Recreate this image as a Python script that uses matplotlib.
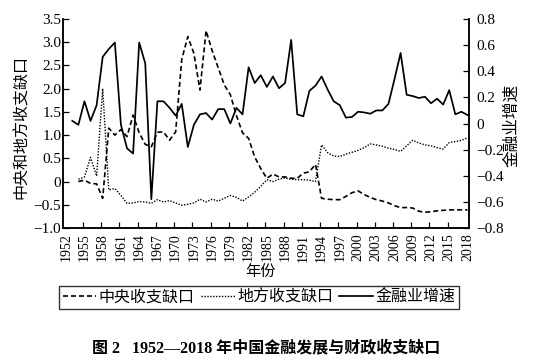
import numpy as np
import matplotlib
matplotlib.use("Agg")
import matplotlib.pyplot as plt
from matplotlib.lines import Line2D
from matplotlib.ticker import FuncFormatter

plt.rcParams['font.family'] = ['Liberation Serif', 'Noto Sans CJK SC', 'DejaVu Sans']
plt.rcParams['axes.unicode_minus'] = True

# --- data ---
years_fin = list(range(1953, 2019))
fin_growth = [0.02, -0.01, 0.17, 0.02, 0.14, 0.51, 0.57, 0.62, -0.01, -0.19,
              -0.23, 0.62, 0.46, -0.58, 0.17, 0.17, 0.12, 0.06, 0.15, -0.18,
              -0.01, 0.07, 0.08, 0.03, 0.11, 0.11, 0.00, 0.12, 0.07, 0.43,
              0.31, 0.37, 0.28, 0.36, 0.27, 0.31, 0.64, 0.07, 0.055, 0.25,
              0.29, 0.36, 0.26, 0.17, 0.14, 0.045, 0.05, 0.09, 0.085, 0.075,
              0.10, 0.10, 0.15, 0.34, 0.54, 0.22, 0.21, 0.195, 0.205, 0.155,
              0.19, 0.145, 0.255, 0.07, 0.09, 0.065]

years_gap = list(range(1954, 2019))
central_gap = [0.0, 0.03, -0.04, -0.05, -0.36, 1.15, 1.0, 1.12, 0.97, 1.43,
               1.05, 0.8, 0.75, 1.06, 1.07, 0.89, 1.07, 2.63, 3.12, 2.76,
               1.97, 3.25, 2.82, 2.45, 2.08, 1.87, 1.42, 1.05, 0.93, 0.53,
               0.28, 0.07, 0.16, 0.10, 0.10, 0.07, 0.07, 0.18, 0.21, 0.37,
               -0.36, -0.38, -0.39, -0.39, -0.32, -0.24, -0.20, -0.28, -0.34, -0.39,
               -0.42, -0.46, -0.52, -0.56, -0.56, -0.57, -0.64, -0.66, -0.65, -0.63,
               -0.62, -0.61, -0.61, -0.61, -0.61]
local_gap = [0.05, 0.10, 0.52, 0.12, 2.0, -0.18, -0.15, -0.30, -0.47, -0.46,
             -0.43, -0.44, -0.47, -0.39, -0.44, -0.41, -0.46, -0.51, -0.49, -0.46,
             -0.38, -0.44, -0.38, -0.42, -0.36, -0.30, -0.34, -0.42, -0.33, -0.23,
             -0.10, 0.04, 0.0, 0.05, 0.08, 0.05, 0.04, 0.04, 0.03, 0.0,
             0.79, 0.62, 0.55, 0.54, 0.59, 0.63, 0.67, 0.73, 0.81, 0.79,
             0.76, 0.72, 0.69, 0.65, 0.77, 0.89, 0.83, 0.79, 0.77, 0.73,
             0.70, 0.84, 0.86, 0.89, 0.94]

label_years = list(range(1952, 2019, 3))
left_ticks = np.arange(-1.0, 3.51, 0.5)
right_ticks = np.arange(-0.8, 0.81, 0.2)


def fmt(v, pos=None):
    if abs(v) < 1e-9:
        return '0'
    return f'{v:.1f}'.replace('-', '\u2212')


fig = plt.figure(figsize=(5.34, 3.64), dpi=100)
ax = fig.add_axes([63.3 / 534, 1 - 228 / 364, 405.7 / 534, 209 / 364])
ax2 = ax.twinx()

ax.plot(years_gap, central_gap, color='black', lw=1.2, linestyle=(0, (3, 1.8)))
ax.plot(years_gap, local_gap, color='black', lw=1.0, linestyle=(0, (1, 1.1)))
ax2.plot(years_fin, fin_growth, color='black', lw=1.25, linestyle='-')

ax.set_xlim(1951.52, 2018.25)
ax.set_ylim(-1.0, 3.5)
ax2.set_ylim(-0.8, 0.8)

ax.set_yticks(left_ticks)
ax.yaxis.set_major_formatter(FuncFormatter(fmt))
ax2.set_yticks(right_ticks)
ax2.yaxis.set_major_formatter(FuncFormatter(fmt))

ax.set_xticks(label_years)
ax.set_xticklabels([str(y) for y in label_years], rotation=90)
ax.set_xticks(np.arange(1954.75, 2016, 3), minor=True)
ax.tick_params(axis='x', which='major', length=0, pad=4, labelsize=10)
ax.tick_params(axis='x', which='minor', direction='in', length=4, width=0.9)
ax.tick_params(axis='y', direction='in', length=4, width=0.9, pad=1.5, labelsize=11)
ax2.tick_params(axis='y', direction='in', length=4, width=0.9, pad=5, labelsize=11)

for a in (ax, ax2):
    a.spines['top'].set_visible(False)
    for s in ('left', 'right', 'bottom'):
        a.spines[s].set_linewidth(1.1)

ax.set_ylabel('中央和地方收支缺口', fontsize=11.5)
ax.yaxis.set_label_coords(-0.082, 0.485)
ax2.set_ylabel('金融业增速', fontsize=12, rotation=90)
ax2.yaxis.set_label_coords(1.086, 0.49)
ax.set_xlabel('年份', fontsize=11)
ax.xaxis.set_label_coords(0.487, -0.177)

handles = [
    Line2D([], [], color='black', lw=1.2, linestyle=(0, (3, 1.8))),
    Line2D([], [], color='black', lw=1.0, linestyle=(0, (1, 1.1))),
    Line2D([], [], color='black', lw=1.25, linestyle='-'),
]
leg = fig.legend(handles, ['中央收支缺口', '地方收支缺口', '金融业增速'],
                 loc='center', bbox_to_anchor=(259 / 534, 1 - 297.5 / 364),
                 ncol=3, fontsize=11.5, frameon=True, fancybox=False,
                 handlelength=2.1, handletextpad=0.15, columnspacing=0.4,
                 borderpad=0.25, borderaxespad=0)
leg.get_frame().set_edgecolor('black')
leg.get_frame().set_linewidth(1.0)

fig.text(266 / 534, 1 - 348 / 364, '图 2   1952—2018 年中国金融发展与财政收支缺口',
         ha='center', va='center', fontsize=11.5, fontweight='bold')

fig.savefig('out.png', dpi=100)
